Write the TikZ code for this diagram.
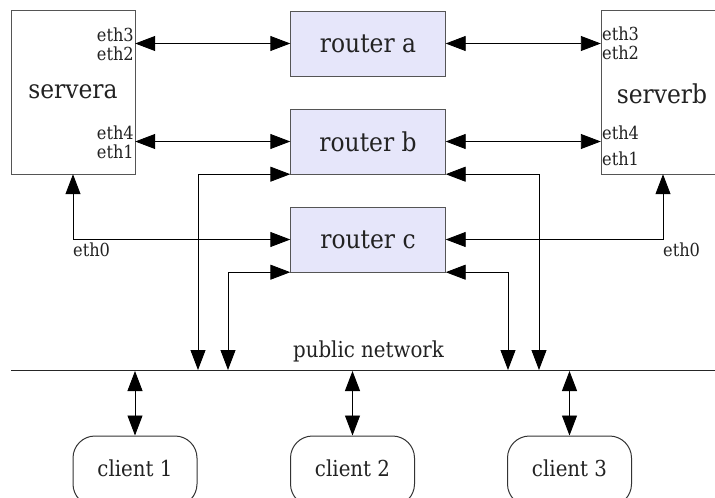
\documentclass[tikz,border=0pt]{standalone}
\usepackage{fontspec}
\setmainfont{DejaVu Serif Condensed}
\usetikzlibrary{arrows.meta}
\definecolor{routerfill}{HTML}{E6E6FA}
\definecolor{boxline}{HTML}{555555}
\definecolor{txt}{HTML}{222222}
\tikzset{
  big/.style={font=\fontsize{26}{30}\selectfont, text=txt},
  mid/.style={font=\fontsize{22}{26}\selectfont, text=txt},
  small/.style={font=\fontsize{18}{20}\selectfont, text=txt, inner sep=0pt},
  serverbox/.style={draw=boxline, fill=white, minimum width=124pt, minimum height=164pt, inner sep=0pt, big},
  routerbox/.style={draw=boxline, fill=routerfill, minimum width=155pt, minimum height=65pt, inner sep=0pt, big},
  clientbox/.style={draw=black!80, line width=1pt, fill=white, rounded corners=22pt, minimum width=124pt, minimum height=70pt, inner sep=0pt, mid},
  link/.style={draw=black, line width=0.9pt, {Triangle[length=20pt,width=15pt]}-{Triangle[length=20pt,width=15pt]}},
}
\begin{document}
\begin{tikzpicture}[x=1pt,y=-1pt]
\useasboundingbox (0,0) rectangle (715,498);
\clip (0,0) rectangle (715,498);
% servers
\node[serverbox] (servera) at (73,92) {servera};
\node[serverbox] (serverb) at (663,92) {};
\node[big, inner sep=0pt] (sbl) at (662,94) {serverb};
% routers
\node[routerbox] (routera) at (368,43.5) {router a};
\node[routerbox] (routerb) at (368,141.5) {router b};
\node[routerbox] (routerc) at (368,239.5) {router c};
% interface labels
\node[small, anchor=east] (a3) at (134,35) {eth3};
\node[small, anchor=east] (a2) at (134,54) {eth2};
\node[small, anchor=east] (a4) at (134,133) {eth4};
\node[small, anchor=east] (a1) at (134,152) {eth1};
\node[small, anchor=west] (b3) at (602,34) {eth3};
\node[small, anchor=west] (b2) at (602,53) {eth2};
\node[small, anchor=west] (b4) at (602,133) {eth4};
\node[small, anchor=west] (b1) at (602,159) {eth1};
\node[small, anchor=west] (a0) at (73,250) {eth0};
\node[small, anchor=west] (b0) at (663,250) {eth0};
% public network
\node[mid, inner sep=0pt] (pn) at (368.5,351) {public network};
\coordinate (netL) at (11,370);
\coordinate (netR) at (715,370);
\draw[line width=0.9pt, draw=black!85] (netL) -- (netR);
\coordinate (n1) at (198,370);
\coordinate (n2) at (228,370);
\coordinate (n3) at (508,370);
\coordinate (n4) at (539,370);
% clients
\node[clientbox] (c1) at (135,471) {};
\node[clientbox] (c2) at (352.5,471) {};
\node[clientbox] (c3) at (569.5,471) {};
\node[mid, inner sep=0pt] (c1l) at (135,468) {client 1};
\node[mid, inner sep=0pt] (c2l) at (352.5,468) {client 2};
\node[mid, inner sep=0pt] (c3l) at (569.5,468) {client 3};
\coordinate (t1) at (135,371);
\coordinate (t2) at (352.5,371);
\coordinate (t3) at (569.5,371);
% links
\draw[link] (servera.east |- routera.west) -- (routera.west);
\draw[link] (routera.east) -- (serverb.west |- routera.east);
\draw[link] (servera.east |- routerb.west) -- (routerb.west);
\draw[link] (routerb.east) -- (serverb.west |- routerb.east);
\draw[link] (servera.south) |- (routerc.west);
\draw[link] (serverb.south) |- (routerc.east);
\draw[link] (n1) |- (routerb.south west);
\draw[link] (n4) |- (routerb.south east);
\draw[link] (n2) |- (routerc.south west);
\draw[link] (n3) |- (routerc.south east);
\draw[link] (t1) -- (c1.north);
\draw[link] (t2) -- (c2.north);
\draw[link] (t3) -- (c3.north);
\end{tikzpicture}
\end{document}
